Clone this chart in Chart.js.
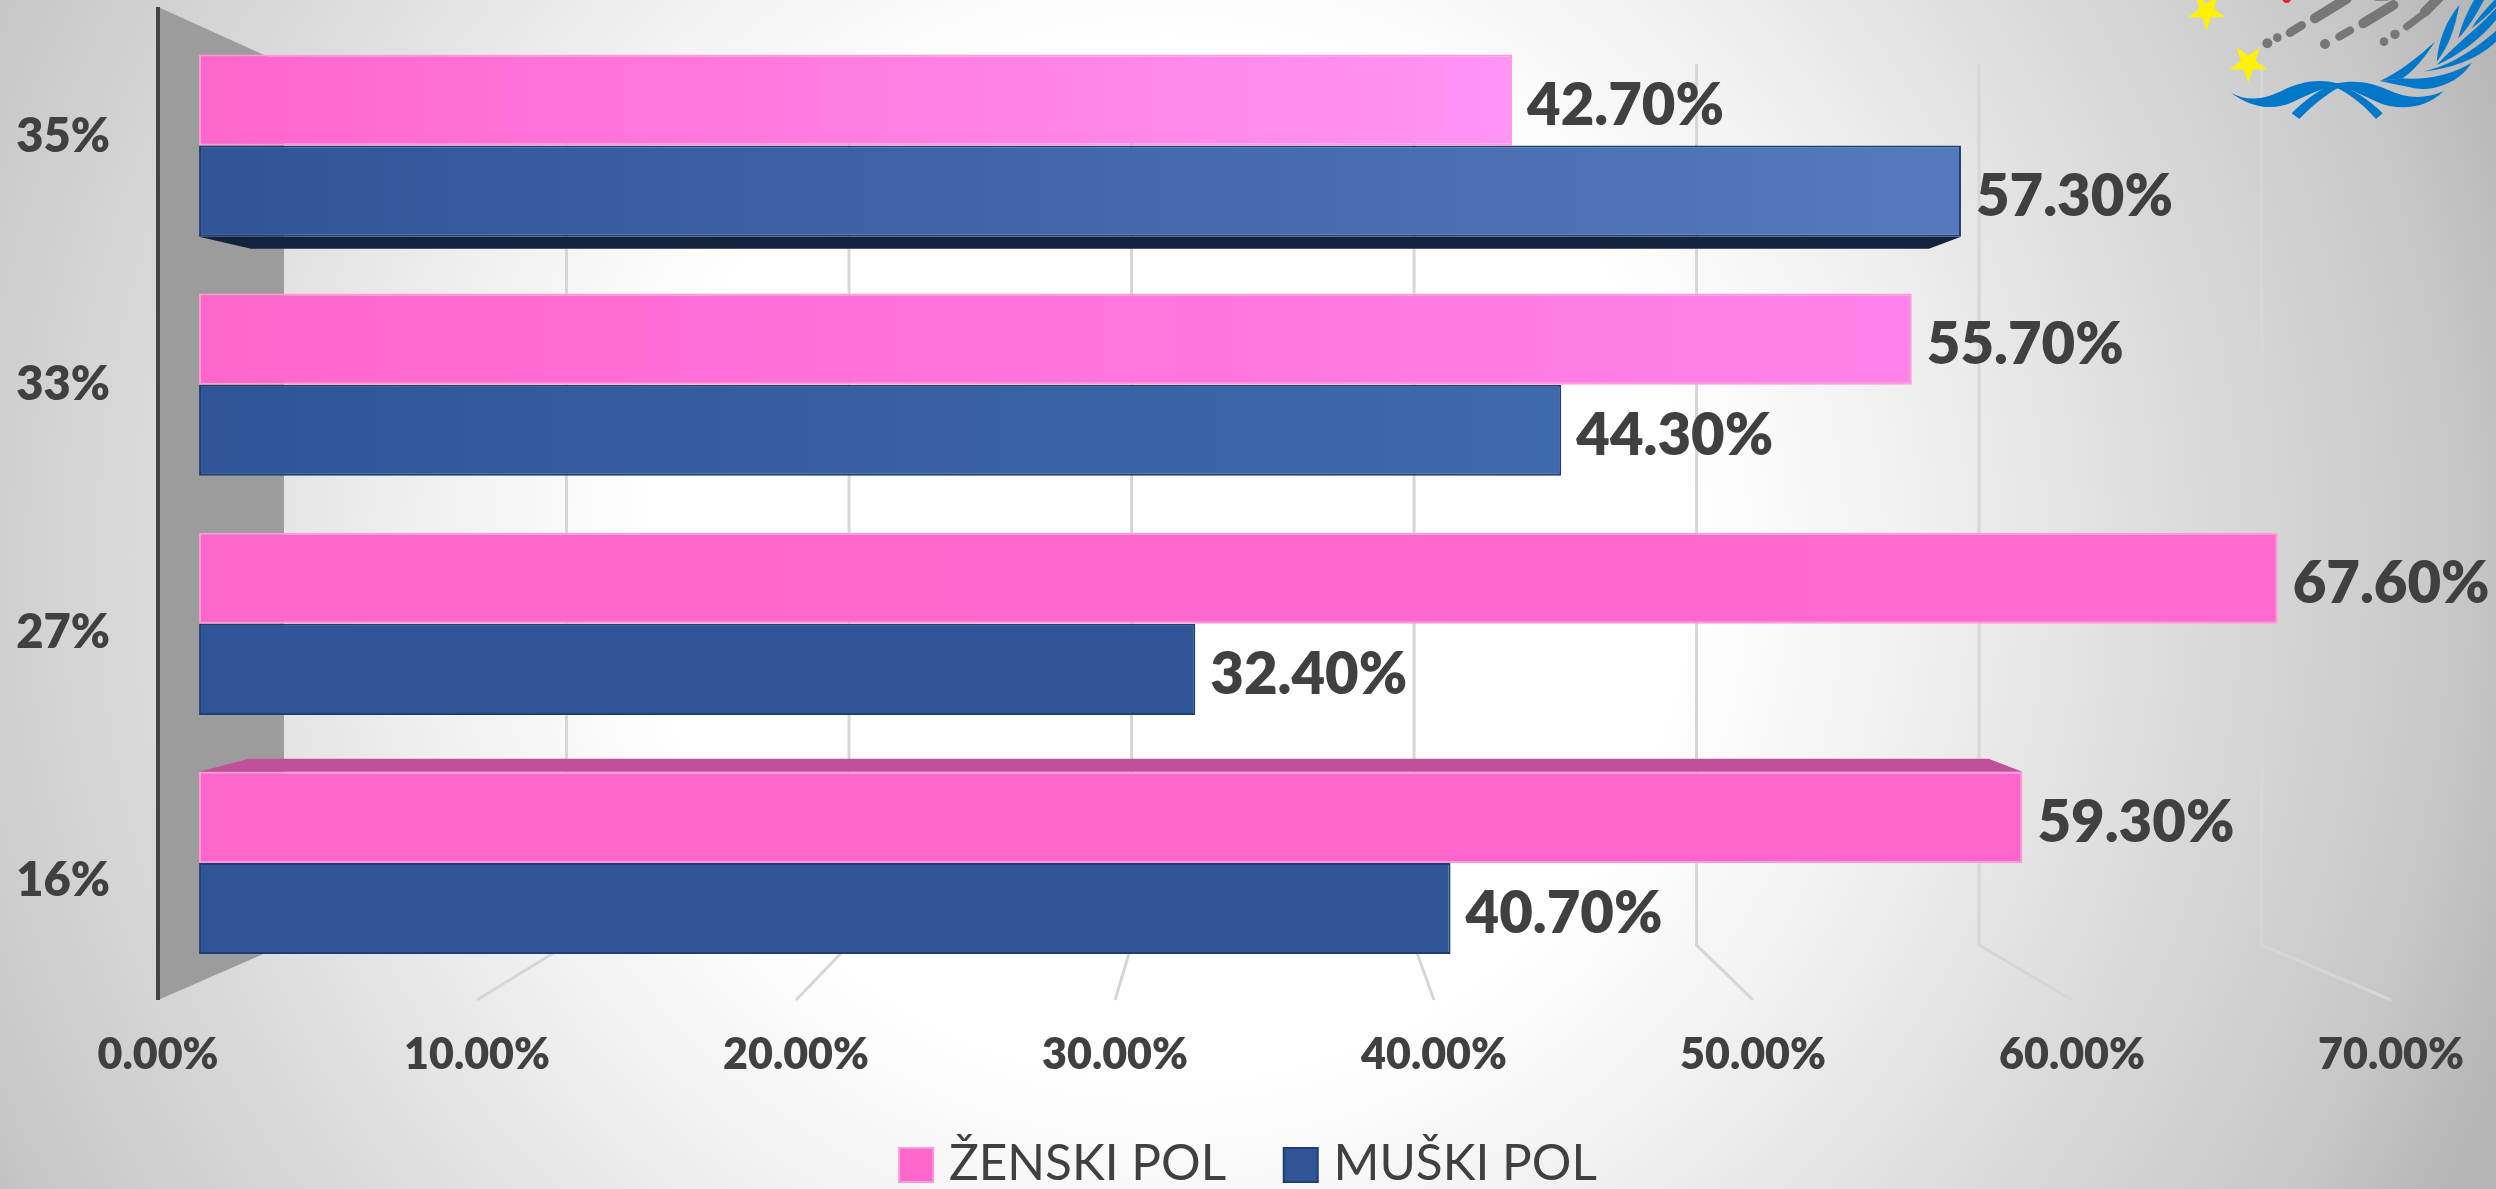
<!DOCTYPE html>
<html>
<head>
<meta charset="utf-8">
<style>
html,body{margin:0;padding:0;width:2496px;height:1189px;overflow:hidden;
background:radial-gradient(circle at 1170px 560px,#ffffff 0px,#ffffff 520px,#f0f0f0 750px,#dcdcdc 1000px,#c8c8c8 1280px,#b6b6b6 1420px);}
canvas{display:block}
</style>
<script src="https://cdn.jsdelivr.net/npm/chart.js@4"></script>
</head>
<body>
<canvas id="c" width="2496" height="1189"></canvas>
<script>
const categories = ['35%','33%','27%','16%'];
const zenskiPol = [42.7,55.7,67.6,59.3];
const muskiPol  = [57.3,44.3,32.4,40.7];
const seriesNames = ['ŽENSKI POL ','MUŠKI POL'];
const valueTicks = [0,10,20,30,40,50,60,70];

const PINK='#ff66cc', BLUE='#2f5597', TEXT='#404040';
const pinkEnds=['#ff94f6','#ff82ea','#ff69d0','#ff66cc'];
const blueEnds=['#5479bd','#3f69ad','#2f5597','#2f5597'];
const FONT='Lato';

function rowGradient(ctx,base,ends){
  const c=ctx.chart, s=c.scales.x;
  if(!s||ctx.dataIndex===undefined) return base;
  const v=ctx.dataset.data[ctx.dataIndex];
  const g=c.ctx.createLinearGradient(s.getPixelForValue(0),0,s.getPixelForValue(v),0);
  g.addColorStop(0,base); g.addColorStop(1,ends[ctx.dataIndex]);
  return g;
}

const scenery={
  id:'scenery',
  beforeDatasetsDraw(chart){
    const {ctx,scales:{x2,x3}}=chart;
    const floorY=1000, backBottom=945, backTop=64, wallTop=7;
    const fx=x2.getPixelForValue(0), bx=x3.getPixelForValue(0);
    ctx.save();
    ctx.fillStyle='#9c9c9c';
    ctx.beginPath();ctx.moveTo(fx,wallTop);ctx.lineTo(bx,backTop);ctx.lineTo(bx,backBottom);ctx.lineTo(fx,floorY);ctx.closePath();ctx.fill();
    ctx.strokeStyle='#d6d6d6';ctx.lineWidth=3;
    valueTicks.slice(1).forEach(v=>{
      ctx.beginPath();
      ctx.moveTo(x3.getPixelForValue(v),backTop);
      ctx.lineTo(x3.getPixelForValue(v),backBottom);
      ctx.lineTo(x2.getPixelForValue(v),floorY);
      ctx.stroke();
    });
    ctx.strokeStyle='#444444';ctx.lineWidth=4;
    ctx.beginPath();ctx.moveTo(fx,wallTop);ctx.lineTo(fx,floorY);ctx.stroke();
    drawLogo(ctx);
    ctx.restore();
  },
  afterDatasetsDraw(chart){
    const ctx=chart.ctx;
    const pink=chart.getDatasetMeta(0).data, blue=chart.getDatasetMeta(1).data;
    ctx.save();
    let b=blue[0], bot=b.y+b.height/2;
    ctx.fillStyle='#13233f';
    ctx.beginPath();ctx.moveTo(b.base,bot);ctx.lineTo(b.base+52,bot+12);ctx.lineTo(b.x-32,bot+12);ctx.lineTo(b.x,bot);ctx.closePath();ctx.fill();
    b=pink[3]; const top=b.y-b.height/2;
    ctx.fillStyle='#c0509a';
    ctx.beginPath();ctx.moveTo(b.base,top);ctx.lineTo(b.base+50,top-13);ctx.lineTo(b.x-34,top-13);ctx.lineTo(b.x,top);ctx.closePath();ctx.fill();
    ctx.fillStyle=TEXT;ctx.font='800 58px '+FONT;ctx.textAlign='left';ctx.textBaseline='middle';
    chart.data.datasets.forEach((ds,i)=>{
      chart.getDatasetMeta(i).data.forEach((el,j)=>{
        ctx.fillText(ds.data[j].toFixed(2)+'%',el.x+15,el.y+6);
      });
    });
    ctx.restore();
  },
  afterDraw(chart){
    const ctx=chart.ctx;
    ctx.save();
    chart.legend.legendHitBoxes.forEach((h,i)=>{
      ctx.fillStyle=i?BLUE:PINK;
      ctx.strokeStyle=i?'#1f3f73':'#ff9ad8';
      ctx.lineWidth=2;
      ctx.fillRect(h.left,1148,34,34);
      ctx.strokeRect(h.left,1148,34,34);
    });
    ctx.restore();
  }
};

function drawLogo(ctx){
  ctx.save();
  ctx.translate(2180,0);ctx.scale(1/3,1/3);
  const star=(cx,cy,r)=>{
    ctx.fillStyle='#fff200';ctx.beginPath();
    for(let i=0;i<10;i++){
      const a=Math.PI/2+i*Math.PI/5, q=i%2?r*0.38:r;
      ctx.lineTo(cx+q*Math.cos(a),cy+q*Math.sin(a));
    }
    ctx.closePath();ctx.fill();
  };
  star(80,33,60);star(205,190,60);
  ctx.fillStyle='#ee2024';ctx.beginPath();ctx.arc(320,-4,13,0,7);ctx.fill();
  ctx.fillStyle='#777777';
  [[262,130,15],[292,113,13],[435,132,15],[612,125,13],[645,103,14]].forEach(d=>{ctx.beginPath();ctx.arc(d[0],d[1],d[2],0,7);ctx.fill();});
  ctx.strokeStyle='#777777';ctx.lineCap='round';
  [[330,98,365,76,26],[405,55,500,-4,30],[478,110,510,91,24],[550,70,640,15,30],[680,80,740,35,22],[735,35,775,-5,30],[590,-10,620,-10,24]].forEach(s=>{
    ctx.lineWidth=s[4];ctx.beginPath();ctx.moveTo(s[0],s[1]);ctx.lineTo(s[2],s[3]);ctx.stroke();
  });
  ctx.fillStyle='#0077c8';
  ['M152 278C215 322 275 335 340 305C390 282 430 262 470 258C500 262 540 283 590 305C650 332 735 330 790 274C735 298 680 296 625 270C580 250 530 238 470 250C420 235 360 245 310 270C255 298 205 306 152 278Z',
   'M335 340C375 300 425 262 470 250L478 262C435 285 395 320 358 357Z',
   'M470 250C520 270 570 300 608 340L588 357C555 320 510 280 465 262Z',
   'M600 243C660 215 715 170 765 125C735 170 705 210 668 235Z',
   'M668 235C740 240 815 225 875 188C840 245 760 280 690 262C660 255 630 250 600 243Z',
   'M730 215C790 200 860 170 948 92L948 125C890 180 810 205 730 215Z',
   'M770 185C775 120 800 60 838 15C825 80 810 135 770 185Z',
   'M770 195C830 170 900 120 948 60L948 25C900 80 830 130 770 195Z',
   'M835 115C845 70 865 30 885 -5L915 -5C890 40 865 85 835 115Z',
   'M875 85C895 50 920 25 948 -5L948 20C925 45 900 65 875 85Z'
  ].forEach(p=>ctx.fill(new Path2D(p)));
  ctx.restore();
}

new Chart(document.getElementById('c'),{
  type:'bar',
  plugins:[scenery],
  data:{
    labels:categories,
    datasets:[
      {label:seriesNames[0],data:zenskiPol,xAxisID:'x',yAxisID:'y',
       backgroundColor:ctx=>rowGradient(ctx,PINK,pinkEnds),borderColor:'#ff9ad8',borderWidth:2,borderSkipped:false},
      {label:seriesNames[1],data:muskiPol,xAxisID:'x',yAxisID:'y',
       backgroundColor:ctx=>rowGradient(ctx,BLUE,blueEnds),borderColor:'#1f3f73',borderWidth:2,borderSkipped:false}
    ]
  },
  options:{
    indexAxis:'y',
    responsive:false,
    animation:false,
    categoryPercentage:0.762,
    barPercentage:1,
    layout:{padding:{top:26,right:0,left:0,bottom:-10}},
    plugins:{
      tooltip:{enabled:false},
      legend:{
        position:'bottom',
        labels:{
          boxWidth:25,boxHeight:25,padding:45,color:TEXT,
          font:{family:FONT,size:49.5,lineHeight:1},
          generateLabels:()=>seriesNames.map((t,i)=>({text:t,fillStyle:'rgba(0,0,0,0)',strokeStyle:'rgba(0,0,0,0)',lineWidth:0,datasetIndex:i,fontColor:TEXT}))
        }
      }
    },
    scales:{
      x:{display:false,type:'linear',min:-1.335,max:71.285,grid:{display:false}},
      x3:{display:false,type:'linear',min:-4.46,max:74.58,grid:{display:false}},
      x2:{type:'linear',position:'bottom',min:0,max:70,offset:false,
        grid:{display:false},border:{display:false},
        afterFit:s=>{s.height=112;s.paddingLeft=0;s.paddingRight=0;},
        afterBuildTicks:s=>{s.ticks=valueTicks.map(v=>({value:v}));},
        ticks:{color:TEXT,padding:39,maxRotation:0,autoSkip:false,font:{family:FONT,size:43,weight:800},callback:v=>v.toFixed(2)+'%'}
      },
      y:{display:false,type:'category',labels:categories,grid:{display:false}},
      y2:{type:'linear',position:'left',reverse:true,min:-0.445,max:3.409,offset:false,
        grid:{display:false},border:{display:false},
        afterFit:s=>{s.width=158;s.paddingTop=0;s.paddingBottom=0;},
        afterBuildTicks:s=>{s.ticks=categories.map((c,i)=>({value:i}));},
        ticks:{color:TEXT,padding:40,autoSkip:false,font:{family:FONT,size:47,weight:800},callback:v=>categories[v]}
      },
      yRight:{type:'linear',position:'right',offset:false,
        grid:{display:false},border:{display:false},
        ticks:{display:false},
        afterFit:s=>{s.width=105;s.paddingTop=0;s.paddingBottom=0;}
      }
    }
  }
});
</script>
</body>
</html>
